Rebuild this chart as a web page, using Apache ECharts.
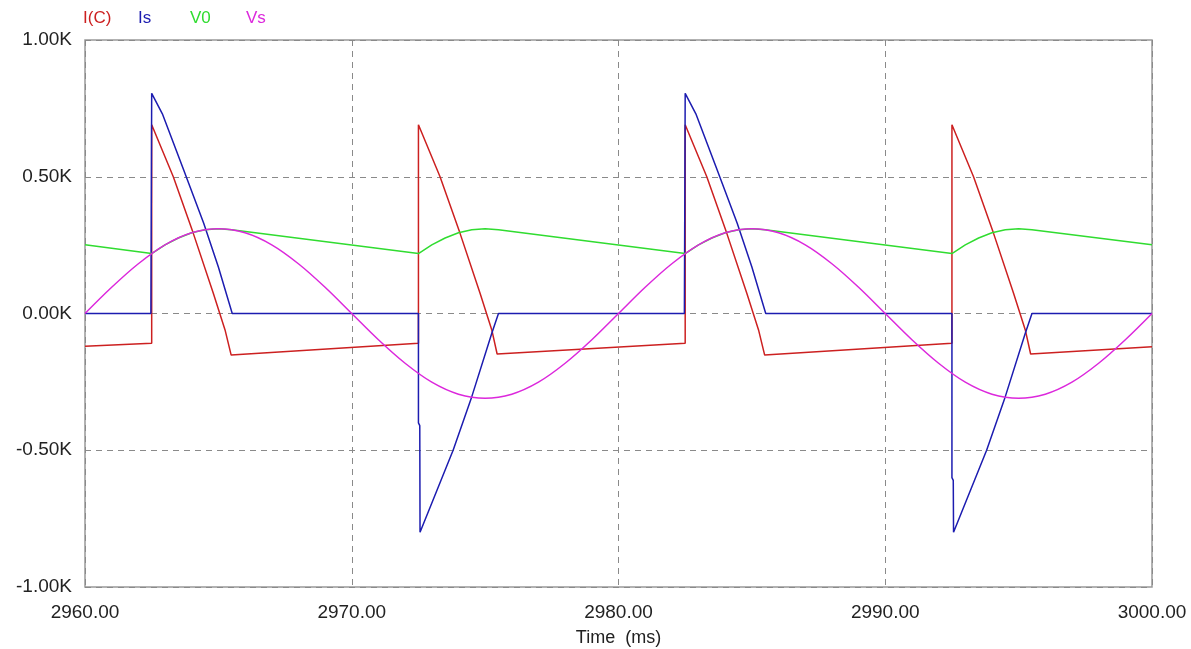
<!DOCTYPE html>
<html>
<head>
<meta charset="utf-8">
<script src="https://cdn.jsdelivr.net/npm/echarts@6/dist/echarts.min.js"></script>
<style>
html,body{margin:0;padding:0;background:#fff;}
#chart{width:1191px;height:649px;}
</style>
</head>
<body>
<div id="chart"></div>
<script>
// Series names and colours
const seriesNames = ['I(C)', 'Is', 'V0', 'Vs'];
const seriesColors = ['#cc2020', '#1c1cb0', '#30dc30', '#dc28dc'];

// X axis ticks (ms) and Y axis ticks (K)
const xTicks = [2960, 2970, 2980, 2990, 3000];
const yTicks = [-1.0, -0.5, 0.0, 0.5, 1.0];

// I(C) capacitor current [time ms, value K]
const icData = [
  [2960, -0.120], [2962.5, -0.109], [2962.5, 0.690], [2963.31, 0.500], [2964.06, 0.293],
  [2964.81, 0.074], [2965.25, -0.060], [2965.48, -0.152],
  [2972.5, -0.109], [2972.5, 0.690], [2973.31, 0.500], [2974.06, 0.293],
  [2974.81, 0.074], [2975.25, -0.060], [2975.45, -0.148],
  [2982.5, -0.109], [2982.5, 0.690], [2983.31, 0.500], [2984.06, 0.293],
  [2984.81, 0.074], [2985.25, -0.060], [2985.48, -0.152],
  [2992.5, -0.109], [2992.5, 0.690], [2993.31, 0.500], [2994.06, 0.293],
  [2994.81, 0.074], [2995.25, -0.060], [2995.45, -0.148],
  [3000, -0.122]
];

// Is source current
const isData = [
  [2960, 0], [2962.47, 0], [2962.5, 0.805], [2962.9, 0.730], [2963.7, 0.525],
  [2964.45, 0.330], [2965.0, 0.170], [2965.52, 0],
  [2972.5, 0], [2972.5, -0.400], [2972.55, -0.410], [2972.56, -0.800], [2973.8, -0.500], [2974.5, -0.304],
  [2975.25, -0.072], [2975.5, 0],
  [2982.47, 0], [2982.5, 0.805], [2982.9, 0.730], [2983.7, 0.525],
  [2984.45, 0.330], [2985.0, 0.170], [2985.52, 0],
  [2992.5, 0], [2992.5, -0.600], [2992.55, -0.610], [2992.56, -0.800], [2993.8, -0.500], [2994.5, -0.304],
  [2995.25, -0.072], [2995.5, 0],
  [3000, 0]
];

// V0 output voltage
const v0Data = [
  [2960, 0.251], [2962.5, 0.219], [2963, 0.251], [2963.5, 0.276], [2964, 0.295],
  [2964.5, 0.306], [2965, 0.310], [2965.5, 0.306],
  [2972.5, 0.219], [2973, 0.251], [2973.5, 0.276], [2974, 0.295],
  [2974.5, 0.306], [2975, 0.310], [2975.5, 0.306],
  [2982.5, 0.219], [2983, 0.251], [2983.5, 0.276], [2984, 0.295],
  [2984.5, 0.306], [2985, 0.310], [2985.5, 0.306],
  [2992.5, 0.219], [2993, 0.251], [2993.5, 0.276], [2994, 0.295],
  [2994.5, 0.306], [2995, 0.310], [2995.5, 0.306],
  [3000, 0.251]
];

// Vs source voltage, sampled every 1 ms
const vsTimes = [2960,2961,2962,2963,2964,2965,2966,2967,2968,2969,2970,2971,2972,2973,2974,2975,2976,2977,2978,2979,2980,
                 2981,2982,2983,2984,2985,2986,2987,2988,2989,2990,2991,2992,2993,2994,2995,2996,2997,2998,2999,3000];
const vsValues = [0, 0.096, 0.182, 0.251, 0.295, 0.310, 0.295, 0.251, 0.182, 0.096,
                  0, -0.096, -0.182, -0.251, -0.295, -0.310, -0.295, -0.251, -0.182, -0.096,
                  0, 0.096, 0.182, 0.251, 0.295, 0.310, 0.295, 0.251, 0.182, 0.096,
                  0, -0.096, -0.182, -0.251, -0.295, -0.310, -0.295, -0.251, -0.182, -0.096, 0];

const FONT = 'Liberation Sans';
const chart = echarts.init(document.getElementById('chart'), null, {renderer: 'canvas'});

const vsData = vsTimes.map((t, i) => [t, vsValues[i]]);
const allData = [icData, isData, v0Data, vsData];

const legendX = [83, 138, 190, 246];

const option = {
  animation: false,
  backgroundColor: '#ffffff',
  grid: {
    left: 85, right: 39, top: 40, bottom: 62,
    containLabel: false, outerBoundsMode: 'none',
    show: true, borderColor: '#999999', borderWidth: 1.5, backgroundColor: 'transparent'
  },
  graphic: seriesNames.map((n, i) => ({
    type: 'text', left: legendX[i], top: 10,
    style: {text: n, fill: seriesColors[i], font: '17px "' + FONT + '"'}
  })),
  xAxis: {
    type: 'value', min: xTicks[0], max: xTicks[xTicks.length - 1], interval: 10,
    name: 'Time  (ms)', nameLocation: 'middle', nameGap: 42,
    nameTextStyle: {color: '#222', fontFamily: FONT, fontSize: 18},
    axisLine: {show: false}, axisTick: {show: false},
    axisLabel: {color: '#222', fontFamily: FONT, fontSize: 19, margin: 16,
      formatter: v => v.toFixed(2)},
    splitLine: {show: true, lineStyle: {color: '#8a8a8a', type: [6, 5], width: 1}}
  },
  yAxis: {
    type: 'value', min: yTicks[0], max: yTicks[yTicks.length - 1], interval: 0.5,
    axisLine: {show: false}, axisTick: {show: false},
    axisLabel: {color: '#222', fontFamily: FONT, fontSize: 19, margin: 13,
      formatter: v => v.toFixed(2) + 'K'},
    splitLine: {show: true, lineStyle: {color: '#8a8a8a', type: [6, 5], width: 1}}
  },
  series: seriesNames.map((n, i) => ({
    name: n, type: 'line', data: allData[i], showSymbol: false, symbol: 'none',
    smooth: n === 'Vs' ? 0.35 : false,
    lineStyle: {color: seriesColors[i], width: 1.5},
    itemStyle: {color: seriesColors[i]},
    z: 2 + i
  }))
};
chart.setOption(option);
</script>
</body>
</html>
